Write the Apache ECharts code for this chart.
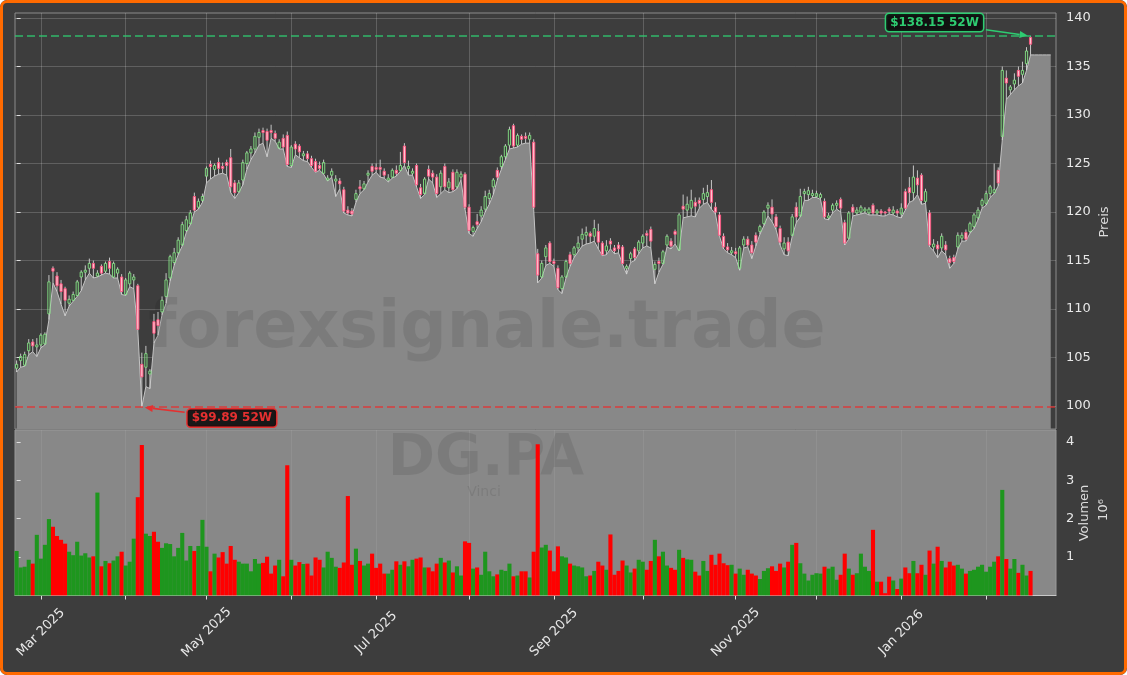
<!DOCTYPE html>
<html><head><meta charset="utf-8">
<script src="https://cdn.jsdelivr.net/npm/echarts@6/dist/echarts.min.js"></script>
<style>
html,body{margin:0;padding:0;background:#fff;}
#wrap{position:relative;width:1127px;height:675px;border-radius:7px;overflow:hidden;}
#chart{position:absolute;left:0;top:0;width:1127px;height:675px;}
#frame{position:absolute;left:0;top:0;width:1127px;height:675px;box-sizing:border-box;border:3px solid #ff6a00;border-radius:7px;pointer-events:none;}
</style></head><body>
<div id="wrap"><div id="chart"></div><div id="frame"></div></div>
<script>
// ---------------- DATA ----------------
const ticker = 'DG.PA';
const company = 'Vinci';
const watermark = 'forexsignale.trade';
const firstDate = '2025-02-21';
const holidays = ['2025-04-18','2025-04-21','2025-05-01','2025-12-25','2025-12-26','2026-01-01'];
const tickLabels = ['Mar 2025','May 2025','Jul 2025','Sep 2025','Nov 2025','Jan 2026'];
const priceTicks = [100,105,110,115,120,125,130,135,140];
const volumeTicks = [1,2,3,4];
const extendDays = 5;

const opens = [
103.9,104.7,104.2,105.7,106.6,106.1,106.3,106.4,109.5,114.2,
113.4,112.6,112.1,110.6,110.9,111.4,113.3,113.8,114.2,114.7,
113.4,114.4,113.9,114.9,113.3,113.7,113.3,111.5,112.6,113.0,
112.4,104.3,104.0,103.3,108.7,108.9,109.7,111.3,113.2,114.8,
115.8,116.6,118.1,118.8,121.6,120.5,121.2,123.7,124.9,124.4,
125.1,124.7,125.1,125.6,123.0,122.1,123.3,125.0,126.1,126.5,
127.7,128.4,128.3,128.4,128.1,126.6,127.6,127.9,124.8,127.0,
126.8,125.8,126.0,125.5,125.2,124.8,124.0,123.3,123.8,123.2,
123.2,122.3,120.2,120.1,121.3,122.6,122.4,123.8,124.7,124.6,
124.6,124.2,123.3,123.6,124.3,124.3,126.8,124.5,124.0,124.8,
122.5,121.9,124.4,124.0,123.6,122.6,124.7,122.5,124.1,122.6,
123.6,123.9,120.5,118.0,119.0,119.6,120.3,121.4,122.6,124.3,
124.7,125.7,126.9,128.9,126.9,127.8,127.8,127.5,127.2,115.7,
113.3,115.4,116.8,114.9,114.2,112.1,113.3,115.6,115.6,116.3,
117.2,117.6,117.8,117.5,118.0,116.8,116.0,117.0,116.3,116.6,
116.4,114.2,115.2,116.2,116.0,116.8,117.8,118.2,114.1,114.9,
114.7,116.6,117.0,118.0,116.1,120.6,120.2,120.4,121.0,121.2,
121.3,121.6,122.3,120.5,119.7,117.5,116.4,115.8,115.9,114.2,
116.6,117.2,116.6,117.6,118.0,118.8,120.4,120.5,119.5,118.3,
116.2,116.9,117.6,120.5,119.6,121.9,121.8,121.7,121.6,121.5,
121.1,119.4,120.2,120.7,121.3,118.9,117.3,120.5,119.9,120.0,
120.1,119.9,120.7,119.9,120.1,120.0,120.3,119.9,120.1,119.8,
122.1,122.5,122.0,123.5,123.8,121.1,119.9,116.4,116.6,116.3,
116.6,115.2,115.3,116.4,117.3,117.9,118.0,118.5,119.4,120.7,
120.9,121.9,122.0,124.3,127.8,133.8,132.6,133.2,134.6,134.2,
135.3,138.0];
const highs = [
104.7,105.4,105.6,106.9,106.9,107.0,107.5,107.6,113.5,114.4,
113.8,113.0,112.3,111.4,111.8,113.0,114.0,114.5,115.2,115.0,
114.0,114.6,114.9,115.3,114.9,114.3,113.6,113.2,113.9,113.6,
112.6,105.5,106.2,103.8,109.5,109.7,111.3,113.7,115.6,116.3,
117.4,119.0,119.6,120.2,122.0,121.4,121.9,124.7,125.3,125.0,
125.6,125.1,125.4,126.5,123.3,123.3,125.4,126.3,126.8,128.2,
128.6,128.7,128.6,129.0,128.4,127.5,128.0,128.3,126.9,127.3,
127.0,126.3,126.3,125.8,125.5,125.2,125.4,123.8,124.5,123.8,
123.5,122.6,120.6,120.4,122.3,123.3,123.2,124.3,125.0,125.0,
125.4,124.5,123.9,124.5,124.8,126.2,127.1,125.3,124.5,125.0,
122.9,123.6,124.8,124.3,123.9,124.3,125.0,123.5,124.4,124.4,
124.2,124.1,120.8,118.6,119.8,120.6,122.2,122.3,123.5,124.6,
125.9,127.0,128.8,129.1,128.1,128.0,128.2,128.2,127.5,116.2,
115.0,116.6,117.0,115.2,114.5,113.5,115.1,115.9,116.5,117.5,
118.3,118.5,118.0,119.2,118.8,117.0,117.1,117.3,116.6,116.9,
116.6,114.6,115.9,116.4,117.1,117.7,118.1,118.5,114.9,115.3,
116.1,117.7,117.3,118.2,119.9,121.8,121.6,122.3,121.5,121.5,
122.5,122.8,123.3,121.0,120.0,117.8,116.8,116.4,116.3,116.5,
117.5,117.5,117.0,117.9,118.7,120.2,121.0,121.3,119.8,118.6,
117.4,117.4,119.8,121.0,122.4,122.4,122.6,122.3,122.2,122.0,
121.4,119.9,120.9,121.2,121.5,119.2,120.1,120.8,120.5,120.7,
120.5,120.5,120.9,120.3,120.3,120.1,120.5,120.6,120.3,120.9,
122.4,123.6,124.8,124.3,124.0,122.4,120.2,117.2,117.0,117.8,
117.0,115.5,115.6,117.9,117.9,118.2,119.0,119.9,120.5,121.4,
122.2,122.8,125.0,124.6,135.0,134.6,133.1,134.3,135.0,135.5,
137.0,138.15];
const lows = [
103.5,104.0,104.1,105.3,105.6,105.1,106.0,106.3,108.9,112.7,
111.8,110.5,109.3,110.3,110.8,111.3,111.9,113.0,113.7,113.2,
113.3,113.5,113.7,113.6,113.2,113.2,111.5,111.4,112.3,112.1,
107.8,99.89,102.0,101.8,106.5,107.3,109.4,110.6,112.9,114.5,
115.6,116.5,117.9,118.7,120.0,120.3,121.0,123.0,123.4,123.7,
123.9,124.0,123.8,122.0,121.4,122.0,122.8,124.4,125.4,126.1,
126.9,127.1,125.7,127.6,127.3,126.5,126.5,124.7,124.6,125.9,
125.6,125.3,125.2,124.6,124.1,124.3,123.9,123.2,123.6,121.6,
122.4,119.9,119.7,119.6,121.0,121.9,122.3,123.1,123.8,124.1,
123.6,123.5,123.1,123.5,123.7,124.2,124.8,123.8,123.8,122.6,
121.4,121.8,123.4,123.0,121.5,121.9,122.3,122.0,122.1,122.4,
123.3,120.3,117.8,117.5,118.3,119.0,120.0,120.8,121.8,123.3,
124.4,125.4,126.5,126.6,126.7,127.0,127.1,127.1,120.3,112.7,
113.2,114.5,114.7,114.4,112.0,111.6,113.2,114.4,115.3,115.9,
116.5,116.7,116.8,117.0,116.2,115.5,115.6,116.2,115.7,115.8,
114.6,113.6,114.8,115.0,115.7,116.3,116.5,116.3,112.6,113.8,
114.6,116.4,116.2,116.7,116.0,119.4,119.5,119.6,119.5,120.4,
120.8,121.0,120.3,119.8,117.5,116.2,115.8,115.6,115.3,114.0,
116.3,116.4,115.2,116.5,117.7,118.6,119.6,119.0,118.2,116.6,
115.6,115.5,117.5,118.9,119.5,121.2,121.2,121.5,121.5,121.3,
119.3,119.2,119.9,120.3,120.0,116.6,117.2,119.6,119.7,119.8,
119.9,119.7,119.7,119.7,119.6,119.6,119.8,119.7,119.5,119.4,
120.2,121.0,121.2,121.8,120.8,120.9,116.4,116.0,115.3,116.0,
115.6,114.2,114.7,116.2,117.0,117.0,117.8,118.3,119.2,120.4,
120.7,121.5,121.9,122.7,127.4,131.6,132.1,132.6,133.0,133.3,
134.6,136.2];
const closes = [
104.3,105.1,105.3,106.5,106.2,106.3,107.3,107.4,112.8,113.9,
112.4,111.8,110.9,111.0,111.5,112.8,113.8,114.0,114.7,114.2,
113.7,113.7,114.7,114.2,114.7,114.1,111.8,113.0,113.7,113.3,
107.9,103.0,105.4,103.6,107.5,108.3,110.9,113.0,115.4,115.8,
117.1,118.7,119.2,119.9,120.2,121.1,121.6,124.5,124.7,124.8,
124.5,124.5,124.8,122.6,122.0,123.0,125.1,126.1,126.5,127.8,
128.2,128.2,127.4,128.2,127.6,127.2,126.7,124.9,126.7,126.5,
126.2,126.0,125.5,124.8,124.2,124.5,125.1,123.5,124.2,123.4,
122.9,120.1,119.9,119.8,121.9,122.4,122.9,124.0,124.2,124.4,
124.4,123.8,123.5,124.3,124.0,124.8,125.1,124.7,124.2,122.8,
121.8,123.4,123.7,123.6,121.9,124.0,122.6,123.1,122.3,124.1,
123.9,120.5,118.1,118.4,118.7,120.2,121.6,121.9,123.3,123.6,
125.7,126.8,128.5,126.8,127.9,127.5,127.6,127.9,120.5,113.5,
114.7,116.3,114.9,114.7,112.2,113.3,114.9,114.7,116.3,116.8,
117.7,117.9,117.5,118.3,116.9,115.6,116.5,116.7,116.0,116.2,
114.7,114.4,115.7,115.3,116.9,117.5,117.6,117.0,114.6,114.7,
115.9,117.5,116.5,117.7,119.7,120.3,120.8,121.2,120.6,120.9,
121.9,122.0,121.0,120.0,117.6,116.4,116.1,116.0,115.7,116.3,
117.2,116.6,115.8,116.9,118.5,120.0,120.7,119.8,118.5,116.9,
116.8,116.0,119.5,119.5,121.6,122.1,122.2,121.9,121.9,121.8,
119.5,119.6,120.7,120.9,120.4,116.8,119.9,120.0,120.2,120.5,
120.3,120.3,119.9,120.1,119.9,119.9,120.1,120.2,119.9,120.4,
120.4,122.0,123.6,122.8,121.2,122.1,116.6,116.7,116.2,117.5,
116.1,114.8,114.9,117.6,117.6,117.2,118.8,119.7,120.2,121.2,
121.9,122.6,122.3,123.0,134.6,133.3,132.9,133.6,134.0,134.6,
136.6,137.3];
// volume in millions
const volumes = [
1.16,0.73,0.75,0.93,0.83,1.58,0.96,1.32,1.99,1.79,
1.55,1.45,1.35,1.14,1.05,1.40,1.04,1.10,0.99,1.02,
2.68,0.76,0.90,0.84,0.91,1.02,1.14,0.78,0.88,1.48,
2.56,3.92,1.61,1.55,1.66,1.40,1.24,1.36,1.34,1.02,
1.24,1.63,0.91,1.29,1.16,1.29,1.97,1.27,0.63,1.09,
0.99,1.13,0.83,1.29,0.93,0.88,0.83,0.83,0.63,0.95,
0.83,0.85,1.01,0.57,0.78,0.93,0.50,3.39,0.93,0.78,
0.87,0.82,0.83,0.52,0.99,0.93,0.73,1.14,0.98,0.75,
0.72,0.86,2.59,0.80,1.22,0.90,0.78,0.83,1.09,0.72,
0.83,0.57,0.57,0.67,0.89,0.80,0.89,0.76,0.93,0.96,
0.99,0.73,0.73,0.63,0.83,0.98,0.86,0.91,0.60,0.76,
0.52,1.41,1.37,0.70,0.73,0.54,1.14,0.63,0.50,0.55,
0.67,0.64,0.83,0.50,0.52,0.63,0.63,0.47,1.14,3.94,
1.25,1.32,1.17,0.63,1.28,1.02,0.99,0.83,0.78,0.76,
0.73,0.50,0.52,0.64,0.88,0.78,0.67,1.59,0.54,0.64,
0.91,0.78,0.60,0.70,0.93,0.88,0.67,0.90,1.45,1.02,
1.14,0.78,0.72,0.67,1.19,0.98,0.94,0.93,0.62,0.52,
0.90,0.64,1.06,0.80,1.09,0.84,0.79,0.80,0.57,0.70,
0.54,0.67,0.57,0.52,0.43,0.64,0.71,0.76,0.64,0.83,
0.73,0.88,1.32,1.37,0.84,0.57,0.39,0.54,0.58,0.57,
0.75,0.70,0.75,0.41,0.54,1.09,0.70,0.54,0.58,1.09,
0.75,0.64,1.71,0.36,0.36,0.06,0.49,0.39,0.17,0.44,
0.73,0.58,0.90,0.58,0.80,0.54,1.17,0.83,1.27,0.90,
0.73,0.88,0.78,0.80,0.70,0.57,0.64,0.67,0.75,0.80,
0.62,0.75,0.88,1.02,2.75,0.95,0.70,0.95,0.59,0.80,
0.52,0.64];

// ---------------- DERIVED ----------------
const N = closes.length;
const monthNames = ['Jan','Feb','Mar','Apr','May','Jun','Jul','Aug','Sep','Oct','Nov','Dec'];
function tradingDays(start, n) {
  const out = []; const d = new Date(start + 'T00:00:00Z');
  while (out.length < n) {
    const dow = d.getUTCDay(); const s = d.toISOString().slice(0, 10);
    if (dow !== 0 && dow !== 6 && holidays.indexOf(s) < 0) out.push(s);
    d.setUTCDate(d.getUTCDate() + 1);
  }
  return out;
}
const dates = tradingDays(firstDate, N + extendDays);
const monthStartIdx = [], monthStartLabel = {};
for (let i = 1; i < dates.length; i++) {
  if (dates[i].slice(5, 7) !== dates[i - 1].slice(5, 7)) {
    monthStartIdx.push(i);
    monthStartLabel[i] = monthNames[+dates[i].slice(5, 7) - 1] + ' ' + dates[i].slice(0, 4);
  }
}
const labelIdx = monthStartIdx.filter(i => tickLabels.indexOf(monthStartLabel[i]) >= 0);

const candleData = opens.map((o, i) => [i, o, closes[i], lows[i], highs[i]]);
const areaData = lows.map((l, i) => [i, l]);
for (let k = 1; k <= extendDays; k++) areaData.push([N - 1 + k, lows[N - 1]]);
const volData = volumes.map((v, i) => [i, v]);
const hi = Math.max.apply(null, highs), lo = Math.min.apply(null, lows);
const hiIdx = highs.indexOf(hi), loIdx = lows.indexOf(lo);

// ---------------- STYLE ----------------
const FONT = '"DejaVu Sans", sans-serif';
const bg = '#3d3d3d', gridLine = 'rgba(255,255,255,0.18)', txt = '#e8e8e8';
const upEdge = '#86e486', downEdge = '#ff5580', downFill = '#ffc4cf', wick = '#d6d6d6';
const volUp = '#1e961e', volDown = '#ff0000';
const hiColor = '#2ecc71', loColor = '#e53030';
const xMin = -0.4, xMax = 257.3;

const chart = echarts.init(document.getElementById('chart'), null, {renderer: 'canvas', width: 1127, height: 675});

function renderCandle(params, api) {
  const i = api.value(0), o = api.value(1), c = api.value(2), l = api.value(3), h = api.value(4);
  const pO = api.coord([i, o]), pC = api.coord([i, c]), pL = api.coord([i, l]), pH = api.coord([i, h]);
  const x = pO[0], top = Math.min(pO[1], pC[1]), bot = Math.max(pO[1], pC[1]);
  const up = c >= o, w = 2.2;
  return {type: 'group', children: [
    {type: 'line', shape: {x1: x, y1: pH[1], x2: x, y2: top}, style: {stroke: wick, lineWidth: 0.9}},
    {type: 'line', shape: {x1: x, y1: bot, x2: x, y2: pL[1]}, style: {stroke: wick, lineWidth: 0.9}},
    {type: 'rect', shape: {x: x - w / 2, y: top, width: w, height: Math.max(bot - top, 0.8)},
     style: {fill: up ? 'rgba(0,0,0,0)' : downFill, stroke: up ? upEdge : downEdge, lineWidth: 0.9}}
  ]};
}

const option = {
  animation: false,
  backgroundColor: bg,
  textStyle: {fontFamily: FONT},
  grid: [
    {left: 15, right: 71, top: 13, height: 416, show: true, backgroundColor: bg, borderColor: '#8c8c8c', borderWidth: 1},
    {left: 15, right: 71, top: 430, height: 165.5, show: true, backgroundColor: '#888888', borderColor: '#9a9a9a', borderWidth: 1}
  ],
  xAxis: [
    {type: 'value', gridIndex: 0, min: xMin, max: xMax,
     axisLine: {show: false}, axisLabel: {show: false},
     axisTick: {show: false, customValues: monthStartIdx},
     splitLine: {show: true, lineStyle: {color: gridLine, width: 1}}},
    {type: 'value', gridIndex: 1, min: xMin, max: xMax,
     axisLine: {show: true, onZero: false, lineStyle: {color: '#c8c8c8'}},
     axisTick: {show: true, length: 4, customValues: monthStartIdx, lineStyle: {color: '#e0e0e0'}},
     axisLabel: {show: true, customValues: labelIdx, formatter: v => monthStartLabel[v] || '',
       rotate: 45, align: 'center', verticalAlign: 'middle', margin: 37, fontSize: 13, color: txt, fontFamily: FONT},
     splitLine: {show: true, lineStyle: {color: 'rgba(255,255,255,0.07)'}}}
  ],
  yAxis: [
    {type: 'value', gridIndex: 0, position: 'right', min: 97.63, max: 140.52, splitNumber: 8, minInterval: 5, maxInterval: 5,
     axisLine: {show: false},
     axisTick: {show: true, length: 4, customValues: priceTicks, lineStyle: {color: '#e0e0e0'}},
     axisLabel: {show: true, customValues: priceTicks, margin: 10, fontSize: 13, color: txt, fontFamily: FONT},
     splitLine: {show: true, lineStyle: {color: gridLine, width: 1}}},
    {type: 'value', gridIndex: 1, position: 'right', min: 0, max: 4.31,
     axisLine: {show: false},
     axisTick: {show: true, length: 4, customValues: volumeTicks, lineStyle: {color: '#e0e0e0'}},
     axisLabel: {show: true, customValues: volumeTicks, margin: 10, fontSize: 13, color: txt, fontFamily: FONT},
     splitLine: {show: false}}
  ],
  series: [
    {type: 'line', name: 'Low', xAxisIndex: 0, yAxisIndex: 0, z: 1, data: areaData, symbol: 'none',
     lineStyle: {color: '#c4c4c4', width: 1}, areaStyle: {color: '#888888', opacity: 1, origin: 'start'},
     markLine: {silent: true, symbol: 'none', label: {show: false},
       data: [
         {yAxis: hi, lineStyle: {color: hiColor, type: [8, 4], width: 1.6, opacity: 0.85}},
         {yAxis: lo, lineStyle: {color: loColor, type: [8, 4], width: 1.6, opacity: 0.85}}
       ]}},
    {type: 'custom', name: 'OHLC', xAxisIndex: 0, yAxisIndex: 0, z: 3, data: candleData,
     encode: {x: 0, y: [1, 2, 3, 4]}, renderItem: renderCandle, clip: true},
    {type: 'bar', name: 'Volumen', xAxisIndex: 1, yAxisIndex: 1, z: 2, data: volData, barWidth: 4.1,
     itemStyle: {color: p => (closes[p.dataIndex] >= opens[p.dataIndex] ? volUp : volDown)}}
  ]
};
chart.setOption(option);

// ---------------- ANNOTATIONS ----------------
function annot(target, offset, text, color) {
  const font = 'bold 12px ' + FONT;
  const ctx = document.createElement('canvas').getContext('2d'); ctx.font = font;
  const tw = ctx.measureText(text).width;
  const padX = 4, padY = 3;
  const hw = tw / 2 + padX + 1, hh = 6 + padY + 1;
  const B = [target[0] + offset[0], target[1] + offset[1]];
  const dx = target[0] - B[0], dy = target[1] - B[1], len = Math.hypot(dx, dy);
  const ux = dx / len, uy = dy / len;
  const s = Math.min(hw / Math.max(Math.abs(ux), 1e-9), hh / Math.max(Math.abs(uy), 1e-9));
  const start = [B[0] + ux * (s + 2), B[1] + uy * (s + 2)];
  const tip = [target[0] - ux * 3, target[1] - uy * 3];
  const base = [tip[0] - ux * 8, tip[1] - uy * 8];
  const nx = -uy, ny = ux;
  return [
    {type: 'line', z: 20, silent: true, shape: {x1: start[0], y1: start[1], x2: base[0], y2: base[1]}, style: {stroke: color, lineWidth: 1.6}},
    {type: 'polygon', z: 20, silent: true, shape: {points: [tip, [base[0] + nx * 3.5, base[1] + ny * 3.5], [base[0] - nx * 3.5, base[1] - ny * 3.5]]}, style: {fill: color}},
    {type: 'text', z: 21, silent: true, x: B[0], y: B[1], style: {text: text, font: font, fill: color, align: 'center', verticalAlign: 'middle',
      backgroundColor: 'rgba(12,12,12,0.9)', borderColor: color, borderWidth: 1.5, borderRadius: 3, padding: [padY, padX, padY - 1, padX]}}
  ];
}
const pHi = chart.convertToPixel({xAxisIndex: 0, yAxisIndex: 0}, [hiIdx, hi]);
const pLo = chart.convertToPixel({xAxisIndex: 0, yAxisIndex: 0}, [loIdx, lo]);
const wmFill = 'rgba(0,0,0,0.09)';
const graphics = [
  {type: 'text', z: 1.5, silent: true, x: 487, y: 330, style: {text: watermark, font: 'bold 65px ' + FONT, fill: wmFill, align: 'center', verticalAlign: 'middle'}},
  {type: 'text', z: 1.5, silent: true, x: 486, y: 460, style: {text: ticker, font: 'bold 57px ' + FONT, fill: wmFill, align: 'center', verticalAlign: 'middle'}},
  {type: 'text', z: 1.5, silent: true, x: 484, y: 492, style: {text: company, font: '14px ' + FONT, fill: wmFill, align: 'center', verticalAlign: 'middle'}},
  {type: 'text', z: 5, silent: true, x: 1105, y: 222, rotation: Math.PI / 2, style: {text: 'Preis', font: '13px ' + FONT, fill: '#dcdcdc', align: 'center', verticalAlign: 'middle'}},
  {type: 'text', z: 5, silent: true, x: 1085, y: 513, rotation: Math.PI / 2, style: {text: 'Volumen', font: '13px ' + FONT, fill: '#dcdcdc', align: 'center', verticalAlign: 'middle'}},
  {type: 'text', z: 5, silent: true, x: 1104, y: 510, rotation: Math.PI / 2, style: {text: '10⁶', font: '13px ' + FONT, fill: '#dcdcdc', align: 'center', verticalAlign: 'middle'}}
].concat(
  annot(pHi, [-96, -13.5], '$' + hi.toFixed(2) + ' 52W', hiColor),
  annot(pLo, [90, 11], '$' + lo.toFixed(2) + ' 52W', loColor)
);
chart.setOption({graphic: graphics});
</script>
</body></html>
